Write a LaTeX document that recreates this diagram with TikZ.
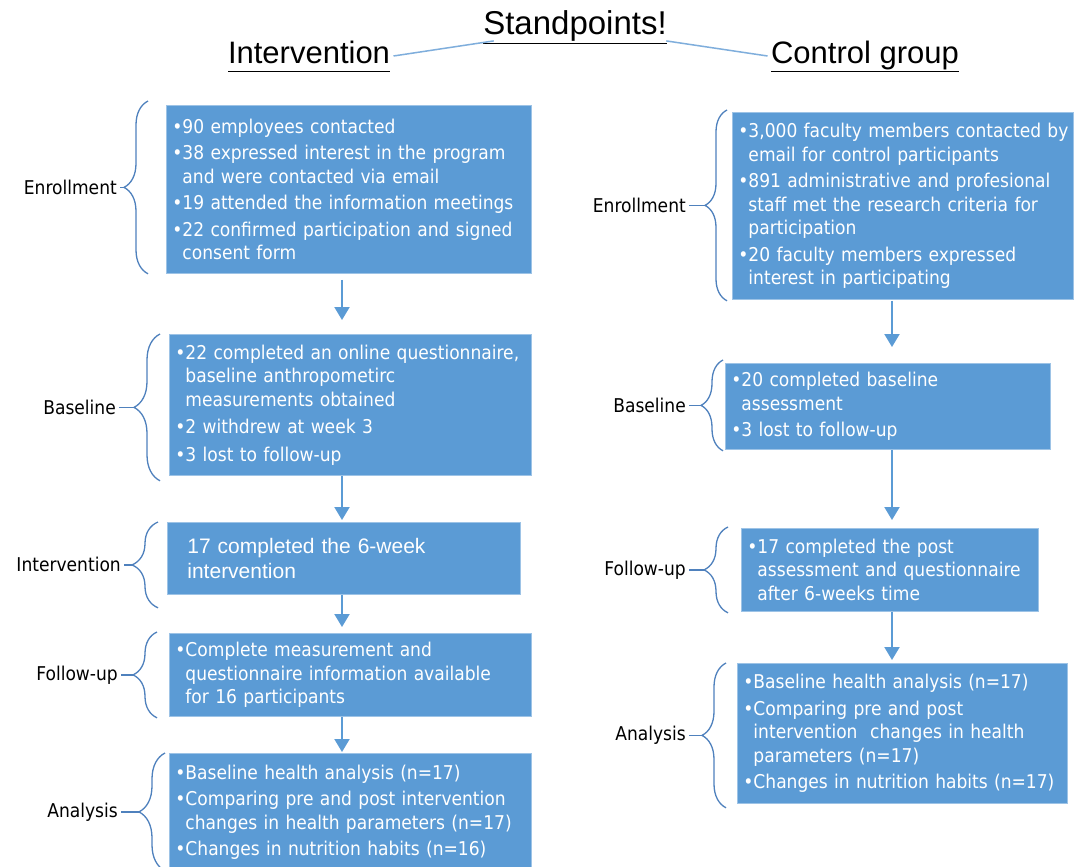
\documentclass[tikz,border=0pt]{standalone}
\usepackage{fontspec}
\setmainfont{DejaVu Sans Condensed}
\newfontfamily\headfont{Liberation Sans}
\usepackage{xcolor}
\definecolor{colorBox}{HTML}{5B9BD5}
\definecolor{colorBoxBorder}{HTML}{9DC3E6}
\definecolor{colorBrace}{HTML}{4F81BD}
\definecolor{colorHead}{HTML}{7FAEDC}
\usetikzlibrary{arrows.meta, positioning, decorations.pathreplacing}
\tikzset{box/.style={anchor=north west, fill=colorBox, draw=colorBoxBorder, line width=0.8pt, text=white, align=left, inner xsep=6pt, inner ysep=0pt, font=\fontsize{19}{23.5}\selectfont}}
\tikzset{brc/.style={draw=colorBrace, line width=1.3pt, decorate, decoration={brace, amplitude=#1}}, brc/.default=24pt}
\tikzset{lbl/.style={inner sep=0pt, font=\fontsize{19}{23.5}\selectfont}}
\tikzset{flow/.style={->, draw=colorBox, line width=2pt}}
\newcommand{\itm}[1]{\mbox{•#1}}
\newcommand{\cnt}[1]{\mbox{\phantom{•}#1}}
\newcommand{\ul}[1]{\underline{#1\vphantom{gp}}}

\begin{document}
\begin{tikzpicture}[x=1pt, y=-1pt, >={Triangle[width=15pt,length=13pt]}]
\useasboundingbox (0,0) rectangle (1074,867);
\fill[white] (0,0) rectangle (1074,867);
\node[font=\headfont\fontsize{33}{36}\selectfont] (std) at (575,27) {\ul{Standpoints!}};
\node[font=\headfont\fontsize{31}{34}\selectfont] (hint) at (309,56) {\ul{Intervention}};
\node[font=\headfont\fontsize{31}{34}\selectfont] (hctl) at (865,56) {\ul{Control group}};
\draw[colorHead, line width=1.5pt] (hint.east) -- ([xshift=14pt, yshift=6pt]std.south west);
\draw[colorHead, line width=1.5pt] ([xshift=-4pt, yshift=6pt]std.south east) -- (hctl.west);

\node[box, text width=353pt, minimum height=168pt] (ienr) at (166,105) {\itm{90 employees contacted}\\[3pt]\itm{38 expressed interest in the program}\\\cnt{and were contacted via email}\\[3pt]\itm{19 attended the information meetings}\\[3pt]\itm{22 confirmed participation and signed}\\\cnt{consent form}};
\node[box, text width=350pt, minimum height=141pt] (ibase) at (169,334) {\itm{22 completed an online questionnaire,}\\\cnt{baseline anthropometirc}\\\cnt{measurements obtained}\\[4pt]\itm{2 withdrew at week 3}\\[4pt]\itm{3 lost to follow-up}};
\node[box, text width=313pt, inner xsep=20pt, minimum height=72pt, font=\headfont\fontsize{21}{25}\selectfont] (iint) at (167,522) {17 completed the 6-week\\intervention};
\node[box, text width=350pt, minimum height=83pt] (ifol) at (169,633) {\itm{Complete measurement and}\\\cnt{questionnaire information available}\\\cnt{for 16 participants}};
\node[box, text width=350pt, minimum height=118pt] (iana) at (169,753) {\itm{Baseline health analysis (n=17)}\\[3pt]\itm{Comparing pre and post intervention}\\\cnt{changes in health parameters (n=17)}\\[3pt]\itm{Changes in nutrition habits (n=16)}};

\node[box, text width=329pt, minimum height=187pt] (cenr) at (732,112) {\itm{3,000 faculty members contacted by}\\\cnt{email for control participants}\\[3pt]\itm{891 administrative and profesional}\\\cnt{staff met the research criteria for}\\\cnt{participation}\\[3pt]\itm{20 faculty members expressed}\\\cnt{interest in participating}};
\node[box, text width=313pt, minimum height=86pt] (cbase) at (725,363) {\itm{20 completed baseline}\\\cnt{assessment}\\[3pt]\itm{3 lost to follow-up}};
\node[box, text width=285pt, minimum height=83pt] (cfol) at (741,528) {\itm{17 completed the post}\\\cnt{assessment and questionnaire}\\\cnt{after 6-weeks time}};
\node[box, text width=318pt, minimum height=140pt] (cana) at (737,663) {\itm{Baseline health analysis (n=17)}\\[3pt]\itm{Comparing pre and post}\\\cnt{intervention\ \ changes in health}\\\cnt{parameters (n=17)}\\[3pt]\itm{Changes in nutrition habits (n=17)}};

\coordinate (iax) at (342,0);
\coordinate (cax) at (892,0);
\draw[flow, shorten <=6pt, shorten >=14pt] (ienr.south -| iax) -- (ibase.north -| iax);
\draw[flow, shorten >=2pt] (ibase.south -| iax) -- (iint.north -| iax);
\draw[flow, shorten >=6pt] (iint.south -| iax) -- (ifol.north -| iax);
\draw[flow, shorten >=1pt] (ifol.south -| iax) -- (iana.north -| iax);
\draw[flow, shorten <=1pt, shorten >=16pt] (cenr.south -| cax) -- (cbase.north -| cax);
\draw[flow, shorten >=8pt] (cbase.south -| cax) -- (cfol.north -| cax);
\draw[flow, shorten >=3pt] (cfol.south -| cax) -- (cana.north -| cax);

\draw[brc] ([xshift=-18pt]ienr.south west) -- coordinate[midway, xshift=-24pt] (tienr) ([xshift=-18pt, yshift=4pt]ienr.north west);
\draw[brc=26pt] ([xshift=-9pt, yshift=-5pt]ibase.south west) -- coordinate[midway, xshift=-26pt] (tibase) ([xshift=-9pt]ibase.north west);
\draw[brc=26pt] ([xshift=-9pt, yshift=-13pt]iint.south west) -- coordinate[midway, xshift=-26pt] (tiint) ([xshift=-9pt]iint.north west);
\draw[brc] ([xshift=-12pt, yshift=-1pt]ifol.south west) -- coordinate[midway, xshift=-24pt] (tifol) ([xshift=-12pt, yshift=1pt]ifol.north west);
\draw[brc=26pt] ([xshift=-4pt, yshift=1pt]iana.south west) -- coordinate[midway, xshift=-26pt] (tiana) ([xshift=-4pt]iana.north west);
\draw[brc=22pt] ([xshift=-5pt, yshift=-1pt]cenr.south west) -- coordinate[midway, xshift=-22pt] (tcenr) ([xshift=-5pt, yshift=2pt]cenr.north west);
\draw[brc=22pt] ([xshift=-2pt, yshift=-1pt]cbase.south west) -- coordinate[midway, xshift=-22pt] (tcbase) ([xshift=-2pt, yshift=3pt]cbase.north west);
\draw[brc] ([xshift=-13pt, yshift=-1pt]cfol.south west) -- coordinate[midway, xshift=-24pt] (tcfol) ([xshift=-13pt, yshift=1pt]cfol.north west);
\draw[brc] ([xshift=-11pt, yshift=-4pt]cana.south west) -- coordinate[midway, xshift=-24pt] (tcana) ([xshift=-11pt]cana.north west);

\node[lbl, left=7pt of tienr] (lienr) {Enrollment};
\node[lbl, left=18pt of tibase] (libase) {Baseline};
\node[lbl, left=11pt of tiint] (liint) {Intervention};
\node[lbl, left=15pt of tifol] (lifol) {Follow-up};
\node[lbl, left=21pt of tiana] (liana) {Analysis};
\node[lbl, left=19pt of tcenr] (lcenr) {Enrollment};
\node[lbl, left=15pt of tcbase] (lcbase) {Baseline};
\node[lbl, left=18pt of tcfol] (lcfol) {Follow-up};
\node[lbl, left=16pt of tcana] (lcana) {Analysis};
\foreach \l/\t in {lienr/tienr, libase/tibase, liint/tiint, lifol/tifol, liana/tiana, lcenr/tcenr, lcbase/tcbase, lcfol/tcfol, lcana/tcana}
  \draw[colorBrace, line width=1.3pt] ([xshift=3pt]\l.east) -- (\t);
\end{tikzpicture}
\end{document}
